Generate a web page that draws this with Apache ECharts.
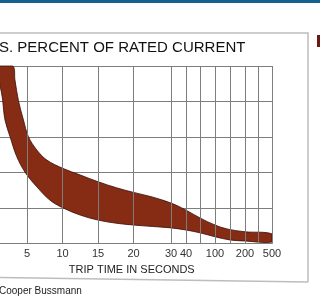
<!DOCTYPE html>
<html><head><meta charset="utf-8">
<script src="https://cdn.jsdelivr.net/npm/echarts@6/dist/echarts.min.js"></script>
<style>html,body{margin:0;padding:0;background:#fff;overflow:hidden}#c{width:320px;height:300px}</style>
</head><body><div id="c"></div>
<script>
// Piecewise time axis of the original graphic (seconds -> axis units)
const xStopTimes = [0, 5, 10, 15, 20, 30, 40, 70, 100, 150, 200, 300, 500];
const xStopUnits = [0, 1, 2, 3, 4, 5.056, 5.479, 5.873, 6.296, 6.718, 7.141, 7.507, 7.901];
const xLabelTimes = [5, 10, 15, 20, 30, 40, 100, 200, 500];
const xGridTimes = [5, 10, 15, 20, 30, 40, 70, 100, 150, 200, 300, 500];
const yTicks = [100, 200, 300, 400, 500, 600];

// Trip band: upper (slow) boundary and lower (fast) boundary, time in s, current in %
const upperTimes = [3.0, 3.3, 3.8, 4.5, 5.2, 6.4, 7.8, 10, 12.5, 15, 17.6, 20, 25, 30, 40, 70, 100, 140, 200, 500];
const upperPct   = [600, 561, 502, 448, 401, 363, 335, 312, 293, 274, 257, 244, 231, 214, 194, 172, 152, 141, 133, 127];
const lowerTimes = [1.06, 1.58, 1.9, 2.61, 3.55, 4.72, 6.37, 8.24, 10, 12.5, 15, 17.6, 20, 25, 30, 40, 70, 100, 150, 200, 500];
const lowerPct   = [600, 502, 448, 401, 345, 301, 260, 222, 201, 180, 166, 157, 152, 148, 144, 138, 130, 119, 110, 107, 104];

const titleText = 'S. PERCENT OF RATED CURRENT';
const xAxisName = 'TRIP TIME IN SECONDS';
const sourceText = 'Cooper Bussmann';

function toUnit(t) {
  for (let i = 1; i < xStopTimes.length; i++) {
    if (t <= xStopTimes[i]) {
      const a = xStopTimes[i - 1], b = xStopTimes[i];
      return xStopUnits[i - 1] + (t - a) / (b - a) * (xStopUnits[i] - xStopUnits[i - 1]);
    }
  }
  return xStopUnits[xStopUnits.length - 1];
}
const FONT = "'Liberation Sans', Arial, sans-serif";
const GRID = '#7d7d7d';
const upper = upperTimes.map((t, i) => [toUnit(t), upperPct[i]]);
const lower = lowerTimes.map((t, i) => [toUnit(t), lowerPct[i]]);
const labelUnits = xLabelTimes.map(toUnit);

const chart = echarts.init(document.getElementById('c'), null, { renderer: 'canvas' });
chart.setOption({
  animation: false,
  backgroundColor: '#fff',
  grid: { left: -8.5, right: 48, top: 66, bottom: 56.5, containLabel: false, outerBoundsMode: 'none' },
  xAxis: {
    type: 'value', min: 0, max: toUnit(500),
    name: xAxisName, nameLocation: 'middle', nameGap: 20,
    nameTextStyle: { fontFamily: FONT, fontSize: 11, color: '#222' },
    axisLine: { show: true, lineStyle: { color: GRID, width: 1 } },
    axisTick: { show: false },
    splitLine: { show: false },
    axisLabel: {
      customValues: labelUnits, margin: 5, fontFamily: FONT, fontSize: 11, color: '#333',
      formatter: v => { let best = 0; labelUnits.forEach((u, i) => { if (Math.abs(u - v) < Math.abs(labelUnits[best] - v)) best = i; }); return String(xLabelTimes[best]); }
    }
  },
  yAxis: {
    type: 'value', min: yTicks[0], max: yTicks[yTicks.length - 1], interval: 100,
    axisLine: { show: false }, axisTick: { show: false }, axisLabel: { show: false },
    splitLine: { show: true, lineStyle: { color: GRID, width: 1 } }
  },
  series: [
    {
      type: 'custom', coordinateSystem: 'cartesian2d', data: [[0, 0]], silent: true, z: 3,
      renderItem: (params, api) => {
        const up = upper.map(p => api.coord(p));
        const lo = lower.map(p => api.coord(p));
        const poly = up.concat(lo.slice().reverse());
        const cs = params.coordSys;
        const box = [[cs.x, cs.y], [cs.x + cs.width, cs.y + cs.height]];
        return {
          type: 'polygon',
          shape: { points: poly, smooth: 0.35, smoothConstraint: box },
          style: { fill: '#872c14', stroke: '#3a0c04', lineWidth: 0.8 }
        };
      }
    },
    {
      type: 'line', data: [], silent: true,
      markLine: {
        silent: true, symbol: ['none', 'none'], label: { show: false },
        lineStyle: { color: GRID, width: 1, type: 'solid' },
        data: xGridTimes.map(t => ({ xAxis: toUnit(t) }))
      }
    }
  ],
  graphic: [
    { type: 'rect', shape: { x: 0, y: 0, width: 320, height: 3 }, style: { fill: '#14608e' } },
    { type: 'polyline', shape: { points: [[-2, 33], [308, 33], [308, 282]] }, style: { stroke: '#bdbdbd', lineWidth: 1.5, fill: null } },
    { type: 'line', shape: { x1: -2, y1: 277.5, x2: 308, y2: 282 }, style: { stroke: '#bdbdbd', lineWidth: 1.5 } },
    { type: 'rect', shape: { x: 317, y: 35, width: 4, height: 12 }, style: { fill: '#6b1a12' } },
    { type: 'text', left: -1, top: 40, style: { text: titleText, font: '15px ' + FONT, fill: '#111' } },
    { type: 'text', left: -1, top: 286, style: { text: sourceText, font: '10px ' + FONT, fill: '#222' } }
  ]
});
</script>
</body></html>
